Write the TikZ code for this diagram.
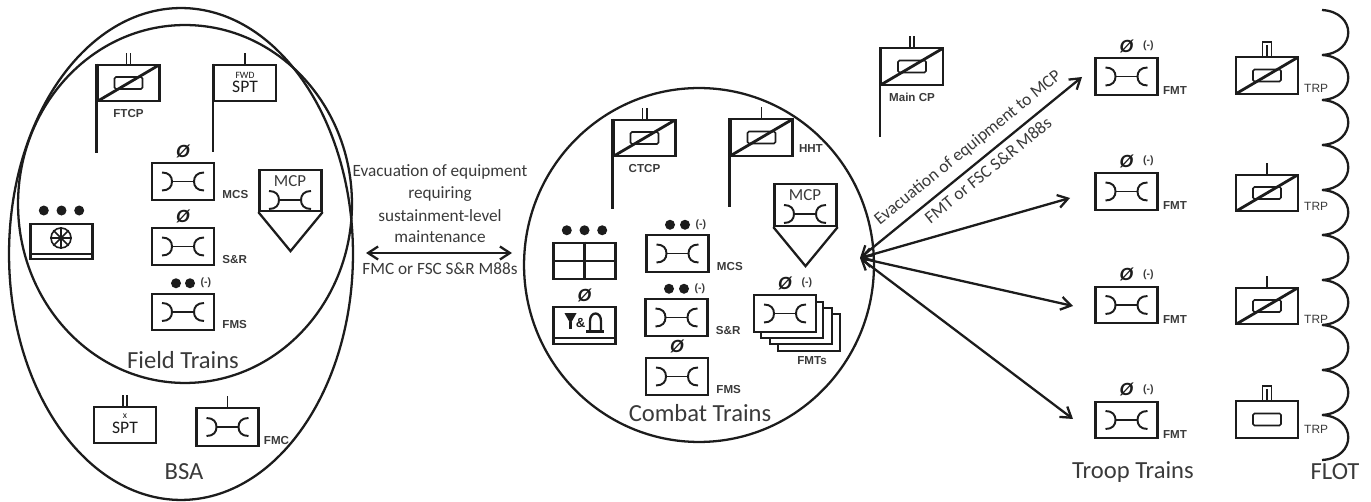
\documentclass[tikz,border=0pt]{standalone}
\usepackage{fontspec}
\setmainfont{Carlito}
\newfontfamily\arialfont{Liberation Sans}
\usetikzlibrary{positioning,calc}
\usetikzlibrary{arrows.meta}
\usetikzlibrary{shapes.geometric}
\definecolor{inkdark}{HTML}{1C1C1C}
\definecolor{inkgray}{HTML}{3A3A3A}
\tikzset{
   unitline/.style = {line width=1.3pt, draw=inkdark},
   thinline/.style = {line width=0.9pt, draw=inkdark},
   unitbox/.style = {unitline, fill=white, inner sep=0pt, minimum width=1.24cm, minimum height=0.73cm},
   maintbox/.style = {unitbox, path picture={\pic at (path picture bounding box.center) {wrench};}},
   cpbox/.style = {unitbox, path picture={
      \draw[thinline, rounded corners=0.8pt] (path picture bounding box.center) +(-14,-6) rectangle +(14,6);
      \draw[line width=1.6pt, draw=inkdark] (path picture bounding box.south west) -- (path picture bounding box.north east);}},
   zone/.style = {ellipse, draw=inkdark, line width=1.3pt, inner sep=0pt},
   echdot/.style = {circle, fill=inkdark, inner sep=0pt, minimum size=0.2cm},
   evac/.style = {line width=1.3pt, draw=inkdark, {Straight Barb[length=2mm,width=2.6mm]}-{Straight Barb[length=2mm,width=2.6mm]}},
   bigtext/.style = {font=\fontsize{14}{14}\selectfont, text=inkgray, inner sep=0pt},
   evactext/.style = {font=\fontsize{9.8}{10}\selectfont, text=inkgray, inner sep=0pt},
   spttext/.style = {font=\fontsize{10}{10}\selectfont, text=inkdark, inner sep=0pt},
   tinytext/.style = {font=\fontsize{5.5}{5.5}\selectfont, text=inkdark, inner sep=0pt},
   mcptext/.style = {font=\fontsize{9.6}{9.6}\selectfont, text=inkgray, inner sep=0pt},
   unitlabel/.style = {font=\arialfont\bfseries\fontsize{6.6}{6.6}\selectfont, text=inkgray, inner sep=0pt},
   trplabel/.style = {font=\arialfont\fontsize{6.8}{6.8}\selectfont, text=inkgray, inner sep=0pt},
   minus/.style = {font=\arialfont\bfseries\fontsize{6}{6}\selectfont, text=inkgray, inner sep=0pt},
   zero/.style = {font=\arialfont\bfseries\itshape\fontsize{10}{10}\selectfont, text=inkdark, inner sep=0pt},
   wrench/.pic = {
      \draw[thinline] (-11,0) -- (11,0);
      \draw[unitline, line width=1.1pt] (-21,-9) .. controls (-14,-9) and (-11,-5) .. (-11,0)
         .. controls (-11,5) and (-14,9) .. (-21,9);
      \draw[unitline, line width=1.1pt] (21,-9) .. controls (14,-9) and (11,-5) .. (11,0)
         .. controls (11,5) and (14,9) .. (21,9);
   },
   onebar/.pic = {\draw[thinline] (0,0) -- (0,-11);},
   twobars/.pic = {\draw[thinline] (-2.2,0) -- (-2.2,-11) (2.2,0) -- (2.2,-11);},
   troopbar/.pic = {\draw[thinline] (-4.5,0) -- (-4.5,-14) -- (4.5,-14) -- (4.5,0) (0,0) -- (0,-11);},
}

\begin{document}
\begin{tikzpicture}[x=0.02cm, y=-0.02cm]
   \useasboundingbox (0,0) rectangle (1371,502);

   % areas
   \node[zone, minimum width=6.88cm, minimum height=9.84cm] (bsa) at (181,254) {};
   \node[zone, minimum width=6.68cm, minimum height=7.16cm] (field) at (185,204) {};
   \node[zone, minimum width=7.00cm, minimum height=7.08cm] (combat) at (699,265) {};

   % field trains
   \node[cpbox] (ftcp) at (128.5,83) {};
   \pic at (ftcp.north) {twobars};
   \draw[unitline] (ftcp.north west) -- ++(0,89);
   \node[unitlabel, below=0.14cm of ftcp] (ftcplabel) {FTCP};

   \node[unitbox] (fwdspt) at (245,83) {};
   \pic at (fwdspt.north) {onebar};
   \draw[unitline] (fwdspt.north west) -- ++(0,88);
   \node[tinytext] (fwdtext) at (245,75) {FWD};
   \node[spttext] (fwdsptext) at (245,87) {SPT};

   \node[maintbox] (mcsa) at (183,181.5) {};
   \node[zero, above=0.08cm of mcsa] (mcsazero) {Ø};
   \node[unitlabel, above right=0.04cm and 0.14cm of mcsa.south east] (mcsalabel) {MCS};

   \node[maintbox] (sra) at (183,246.5) {};
   \node[zero, above=0.08cm of sra] (srazero) {Ø};
   \node[unitlabel, above right=0.04cm and 0.14cm of sra.south east] (sralabel) {S\&R};

   \node[maintbox] (fmsa) at (183,312) {};
   \node[echdot, above=0.08cm of fmsa, xshift=-0.14cm] (fmsadota) {};
   \node[echdot, above=0.08cm of fmsa, xshift=0.14cm] (fmsadotb) {};
   \node[minus, right=0.1cm of fmsadotb] (fmsaminus) {(-)};
   \node[unitlabel, above right=0.04cm and 0.14cm of fmsa.south east] (fmsalabel) {FMS};

   \node[unitbox, minimum height=0.82cm] (mcpa) at (290.5,190.5) {};
   \coordinate[below=0.78cm of mcpa] (mcpatip);
   \draw[unitline] (mcpa.south west) -- (mcpatip) -- (mcpa.south east);
   \node[mcptext] (mcpatext) at (290,181) {MCP};
   \pic at (290,200) {wrench};

   \node[unitbox, minimum height=0.7cm] (sup) at (61.5,241.5) {};
   \draw[unitline] ($(sup.south west)+(0,-6)$) -- ($(sup.south east)+(0,-6)$);
   \node[echdot, above=0.14cm of sup] (supdotb) {};
   \node[echdot, left=0.14cm of supdotb] (supdota) {};
   \node[echdot, right=0.14cm of supdotb] (supdotc) {};
   \node[circle, thinline, inner sep=0pt, minimum size=0.4cm] (wheel) at (61,238) {};
   \draw[thinline] (wheel.north) -- (wheel.south) (wheel.west) -- (wheel.east)
      (wheel.45) -- (wheel.225) (wheel.135) -- (wheel.315);

   \node[bigtext] (fieldtext) at (183,360) {Field Trains};

   % brigade support area
   \node[unitbox] (sptb) at (125,425) {};
   \pic at (sptb.north) {twobars};
   \node[tinytext] (sptbx) at (125,416) {x};
   \node[spttext] (sptbtext) at (125,428) {SPT};

   \node[maintbox, minimum height=0.76cm] (fmc) at (227.5,427) {};
   \pic at (fmc.north) {onebar};
   \node[unitlabel, above right=0.04cm and 0.08cm of fmc.south east] (fmclabel) {FMC};

   \node[bigtext] (bsatext) at (184,472) {BSA};

   % evacuation between the areas
   \coordinate (evacl) at (366,253);
   \coordinate (evacr) at (512,253);
   \draw[evac] (evacl) -- (evacr);
   \node[evactext] (evaca) at (440,172) {Evacuation of equipment};
   \node[evactext] (evacb) at (440,194) {requiring};
   \node[evactext] (evacc) at (440,216) {sustainment-level};
   \node[evactext] (evacd) at (440,237) {maintenance};
   \node[evactext] (evace) at (440,269) {FMC or FSC S\&R M88s};

   % combat trains
   \node[cpbox] (ctcp) at (644.5,138) {};
   \pic at (ctcp.north) {twobars};
   \draw[unitline] (ctcp.north west) -- ++(0,90);
   \node[unitlabel, below=0.14cm of ctcp] (ctcplabel) {CTCP};

   \node[cpbox] (hht) at (761.5,137.5) {};
   \pic at (hht.north) {onebar};
   \node[unitlabel, above right=0.08cm and 0.1cm of hht.south east] (hhtlabel) {HHT};
   \draw[unitline] (hht.north west) -- ++(0,89);

   \node[unitbox, minimum height=0.84cm] (mcpb) at (805.5,205) {};
   \coordinate[below=0.78cm of mcpb] (mcpbtip);
   \draw[unitline] (mcpb.south west) -- (mcpbtip) -- (mcpb.south east);
   \node[mcptext] (mcpbtext) at (805,195) {MCP};
   \pic at (805,214) {wrench};

   \node[unitbox] (grid) at (584.5,261) {};
   \draw[unitline] (grid.north) -- (grid.south) (grid.west) -- (grid.east);
   \node[echdot, above=0.12cm of grid] (griddotb) {};
   \node[echdot, left=0.14cm of griddotb] (griddota) {};
   \node[echdot, right=0.14cm of griddotb] (griddotc) {};

   \node[maintbox] (mcsb) at (677.5,253.5) {};
   \node[echdot, above=0.08cm of mcsb, xshift=-0.15cm] (mcsbdota) {};
   \node[echdot, above=0.08cm of mcsb, xshift=0.15cm] (mcsbdotb) {};
   \node[minus, right=0.1cm of mcsbdotb] (mcsbminus) {(-)};
   \node[unitlabel, above right=0.04cm and 0.14cm of mcsb.south east] (mcsblabel) {MCS};

   \node[maintbox] (srb) at (676.5,317.5) {};
   \node[echdot, above=0.08cm of srb, xshift=-0.15cm] (srbdota) {};
   \node[echdot, above=0.08cm of srb, xshift=0.15cm] (srbdotb) {};
   \node[minus, right=0.1cm of srbdotb] (srbminus) {(-)};
   \node[unitlabel, above right=0.04cm and 0.14cm of srb.south east] (srblabel) {S\&R};

   \node[maintbox] (fmsb) at (677,376.5) {};
   \node[zero, above=0.08cm of fmsb] (fmsbzero) {Ø};
   \node[unitlabel, above right=0.04cm and 0.14cm of fmsb.south east] (fmsblabel) {FMS};

   \node[unitbox] (signal) at (584.5,325.5) {};
   \draw[unitline] ($(signal.south west)+(0,-7)$) -- ($(signal.south east)+(0,-7)$);
   \node[zero, above=0.08cm of signal] (signalzero) {Ø};
   \draw[unitline, line width=1pt, fill=inkdark] (566,314) -- (575,314) -- (570.5,322) -- cycle;
   \draw[unitline] (570.5,322) -- (570.5,329);
   \node[tinytext, font=\arialfont\bfseries\fontsize{7.5}{7.5}\selectfont] (signaland) at (580.5,323) {\&};
   \draw[unitline] (586,331.5) -- (604,331.5);
   \draw[unitline] (590,331.5) -- (590,321) .. controls (590,311) and (601,311) .. (601,321) -- (601,331.5);

   \node[unitbox] (stackd) at (809,332.5) {};
   \node[unitbox] (stackc) at (801,326) {};
   \node[unitbox] (stackb) at (792,320) {};
   \node[maintbox] (stacka) at (785,313.5) {};
   \node[zero, above=0.08cm of stacka] (stackzero) {Ø};
   \node[minus, right=0.18cm of stackzero] (stackminus) {(-)};
   \node[unitlabel] (stacklabel) at (812,361) {FMTs};

   \node[bigtext] (combattext) at (700,413) {Combat Trains};

   % main command post
   \node[cpbox] (maincp) at (912,66.5) {};
   \pic at (maincp.north) {twobars};
   \draw[unitline] (maincp.north west) -- ++(0,90);
   \node[unitlabel, below=0.14cm of maincp] (maincplabel) {Main CP};

   % troop trains
   \node[maintbox] (fmta) at (1126.5,76.5) {};
   \node[zero, above=0.08cm of fmta] (fmtazero) {Ø};
   \node[minus, right=0.18cm of fmtazero] (fmtaminus) {(-)};
   \node[unitlabel, above right=0.02cm and 0.08cm of fmta.south east] (fmtalabel) {FMT};

   \node[maintbox] (fmtb) at (1126.5,191.5) {};
   \node[zero, above=0.08cm of fmtb] (fmtbzero) {Ø};
   \node[minus, right=0.18cm of fmtbzero] (fmtbminus) {(-)};
   \node[unitlabel, above right=0.02cm and 0.08cm of fmtb.south east] (fmtblabel) {FMT};

   \node[maintbox] (fmtc) at (1126.5,305) {};
   \node[zero, above=0.08cm of fmtc] (fmtczero) {Ø};
   \node[minus, right=0.18cm of fmtczero] (fmtcminus) {(-)};
   \node[unitlabel, above right=0.02cm and 0.08cm of fmtc.south east] (fmtclabel) {FMT};

   \node[maintbox] (fmtd) at (1126.5,420) {};
   \node[zero, above=0.08cm of fmtd] (fmtdzero) {Ø};
   \node[minus, right=0.18cm of fmtdzero] (fmtdminus) {(-)};
   \node[unitlabel, above right=0.02cm and 0.08cm of fmtd.south east] (fmtdlabel) {FMT};

   \node[bigtext] (trooptext) at (1133,472) {Troop Trains};

   % evacuation to the troops
   \coordinate (hub) at (860,258);
   \coordinate (tipa) at (1082,77);
   \coordinate (tipb) at (1070,198);
   \coordinate (tipc) at (1073,306);
   \coordinate (tipd) at (1073,419);
   \draw[evac] (hub) -- (tipa);
   \draw[evac] (hub) -- (tipb);
   \draw[evac] (hub) -- (tipc);
   \draw[evac] (hub) -- (tipd);
   \node[evactext, font=\fontsize{10}{10}\selectfont, rotate=39] (evacf) at (968,148) {Evacuation of equipment to MCP};
   \node[evactext, font=\fontsize{10}{10}\selectfont, rotate=39] (evacg) at (988,170) {FMT or FSC S\&R M88s};

   % troops
   \node[cpbox] (trpa) at (1267,75.5) {};
   \pic at (trpa.north) {troopbar};
   \node[trplabel, above right=0.04cm and 0.34cm of trpa.south east, anchor=south] (trpalabel) {TRP};

   \node[cpbox] (trpb) at (1267,193) {};
   \pic at (trpb.north) {onebar};
   \node[trplabel, above right=0.04cm and 0.34cm of trpb.south east, anchor=south] (trpblabel) {TRP};

   \node[cpbox] (trpc) at (1267,306) {};
   \pic at (trpc.north) {onebar};
   \node[trplabel, above right=0.04cm and 0.34cm of trpc.south east, anchor=south] (trpclabel) {TRP};

   \node[unitbox] (trpd) at (1267,419.5) {};
   \pic at (trpd.north) {troopbar};
   \draw[thinline, rounded corners=0.8pt] (trpd.center) +(-14,-6) rectangle +(14,6);
   \node[trplabel, above right=0.1cm and 0.34cm of trpd.south east, anchor=south] (trpdlabel) {TRP};

   % forward line
   \draw[unitline] (1322,10)
      .. controls +(35,2) and +(35,-2) .. ++(0,45)
      .. controls +(35,2) and +(35,-2) .. ++(0,45)
      .. controls +(35,2) and +(35,-2) .. ++(0,45)
      .. controls +(35,2) and +(35,-2) .. ++(0,45)
      .. controls +(35,2) and +(35,-2) .. ++(0,45)
      .. controls +(35,2) and +(35,-2) .. ++(0,45)
      .. controls +(35,2) and +(35,-2) .. ++(0,45)
      .. controls +(35,2) and +(35,-2) .. ++(0,45)
      .. controls +(35,2) and +(35,-2) .. ++(0,45)
      .. controls +(35,2) and +(35,-2) .. ++(0,45);
   \node[bigtext] (flottext) at (1335,472) {FLOT};

\end{tikzpicture}
\end{document}
